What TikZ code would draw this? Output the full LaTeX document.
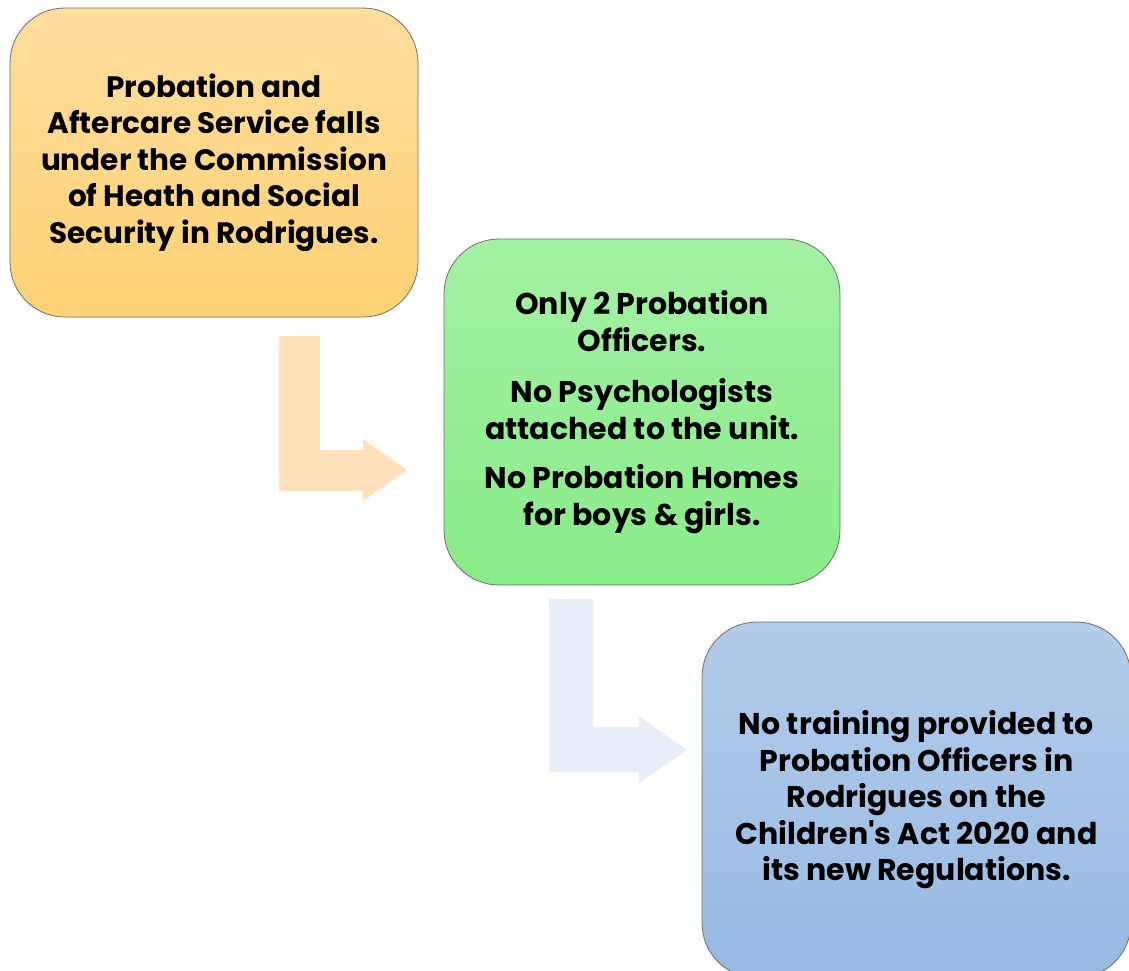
\documentclass[tikz,border=0pt]{standalone}
\usepackage{fontspec}
\setmainfont{Poppins}
\newfontfamily\popplain{Poppins}
\definecolor{orTop}{HTML}{FEDD9E}
\definecolor{orBot}{HTML}{FED274}
\definecolor{grTop}{HTML}{A4F1A4}
\definecolor{grBot}{HTML}{88EC88}
\definecolor{blTop}{HTML}{B3CCEA}
\definecolor{blBot}{HTML}{97BAE3}
\definecolor{edge}{HTML}{6E6E6E}
\definecolor{arrA}{HTML}{FFE0BA}
\definecolor{arrB}{HTML}{E8EEF8}
\tikzset{
  box/.style={draw=edge, line width=0.8pt, rounded corners=55pt, align=center,
    inner sep=0pt, font=\popplain\bfseries\fontsize{30}{36.5}\selectfont},
  blockarrow/.style={draw=none}
}
\begin{document}
\begin{tikzpicture}[x=1pt,y=-1pt]
\clip (0,0) rectangle (1129,970);
\fill[white] (0,0) rectangle (1129,970);
% block arrows
\fill[arrA] (279,336) -- (320,336) -- (320,450) -- (363,450) -- (363,439) -- (407,470) -- (363,501) -- (363,491) -- (279,491) -- cycle;
\fill[arrB] (549,599) -- (593,599) -- (593,727) -- (639,727) -- (639,716) -- (687,750) -- (639,783) -- (639,772) -- (549,772) -- cycle;
% boxes
\node[box, minimum width=408pt, minimum height=309pt, top color=orTop, bottom color=orBot, font=\popplain\bfseries\fontsize{29.5}{36.5}\selectfont] (b1) at (214,162.5)
  {Probation and\\Aftercare Service falls\\under the Commission\\of Heath and Social\\Security in Rodrigues.};
\node[box, minimum width=396pt, minimum height=346pt, top color=grTop, bottom color=grBot] (b2) at (642,412)
  {Only 2 Probation\\Officers.\\[15pt]No Psychologists\\attached to the unit.\\[13pt]No Probation Homes\\for boys \& girls.};
\node[box, minimum width=429pt, minimum height=356pt, top color=blTop, bottom color=blBot] (b3) at (916.5,800)
  {No training provided to\\Probation Officers in\\Rodrigues on the\\Children's Act 2020 and\\its new Regulations.};
\end{tikzpicture}
\end{document}
